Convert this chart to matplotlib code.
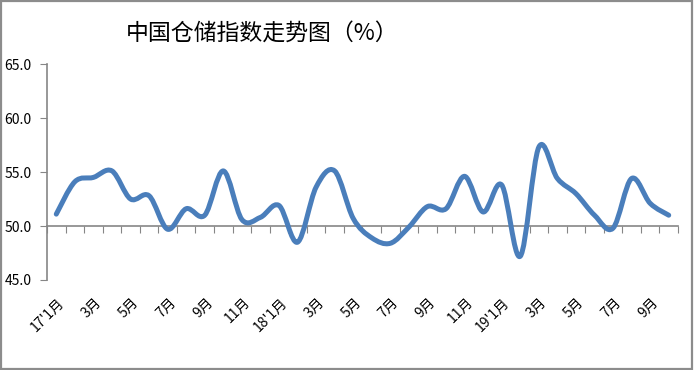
import matplotlib.pyplot as plt
from matplotlib.path import Path
from matplotlib.patches import PathPatch, Rectangle
import numpy as np

plt.rcParams['font.family'] = ['Noto Sans CJK SC', 'DejaVu Sans']

# monthly index, 2017-01 .. 2019-10
months = ["17'1月", "2月", "3月", "4月", "5月", "6月", "7月", "8月", "9月", "10月", "11月", "12月",
          "18'1月", "2月", "3月", "4月", "5月", "6月", "7月", "8月", "9月", "10月", "11月", "12月",
          "19'1月", "2月", "3月", "4月", "5月", "6月", "7月", "8月", "9月", "10月"]
values = [51.1, 54.1, 54.5, 55.1, 52.5, 52.8, 49.7, 51.6, 51.0, 55.1, 50.6, 50.8,
          51.9, 48.5, 53.6, 55.1, 50.7, 48.9, 48.4, 49.9, 51.8, 51.6, 54.6, 51.3,
          53.8, 47.2, 57.3, 54.4, 53.0, 51.0, 49.8, 54.4, 52.1, 51.0]
yticks = [45.0, 50.0, 55.0, 60.0, 65.0]

W, H = 694, 370
fig = plt.figure(figsize=(W / 100, H / 100), dpi=100)
fig.patches.append(Rectangle((0.002, 0.003), 0.995, 0.994, transform=fig.transFigure,
                             fill=False, edgecolor='#8c8c8c', linewidth=1.6))

ax = fig.add_axes([47 / W, 1 - 280 / H, 631 / W, 216 / H])
n = len(values)
ax.set_xlim(-0.5, n - 0.5)
ax.set_ylim(45, 65)

# smoothed line (Catmull-Rom style bezier like Excel)
x = np.arange(n)
y = np.array(values)
px = np.concatenate([[x[0]], x, [x[-1]]])
py = np.concatenate([[y[0]], y, [y[-1]]])
verts = [(x[0], y[0])]
codes = [Path.MOVETO]
for i in range(1, n):
    p0 = np.array([px[i - 1], py[i - 1]])
    p1 = np.array([px[i], py[i]])
    p2 = np.array([px[i + 1], py[i + 1]])
    p3 = np.array([px[i + 2], py[i + 2]])
    c1 = p1 + (p2 - p0) / 6
    c2 = p2 - (p3 - p1) / 6
    verts += [tuple(c1), tuple(c2), tuple(p2)]
    codes += [Path.CURVE4] * 3
ax.add_patch(PathPatch(Path(verts, codes), fill=False, edgecolor='#4a7ebb',
                       linewidth=3.6, capstyle='round', joinstyle='round', zorder=3))

for s in ['top', 'right']:
    ax.spines[s].set_visible(False)
ax.spines['bottom'].set_position(('data', 50))
for s in ['left', 'bottom']:
    ax.spines[s].set_color('#868686')
    ax.spines[s].set_linewidth(1.2)

ax.set_yticks(yticks)
ax.set_yticklabels([f'{v:.1f}' for v in yticks], fontsize=10)
ax.tick_params(axis='y', direction='out', length=5, color='#868686', pad=6)
ax.set_xticks(np.arange(n + 1) - 0.5)
ax.set_xticklabels([])
ax.tick_params(axis='x', direction='out', length=5, color='#868686')

trans = ax.get_xaxis_transform()
for i in range(0, n, 2):
    ax.text(i + 0.05, -0.07, months[i], transform=trans, rotation=45, rotation_mode='anchor',
            ha='right', va='top', fontsize=10)

fig.text(262 / W, 1 - 33 / H, '中国仓储指数走势图（%）', ha='center', va='center', fontsize=16.5)

fig.savefig('out.png', dpi=100)
